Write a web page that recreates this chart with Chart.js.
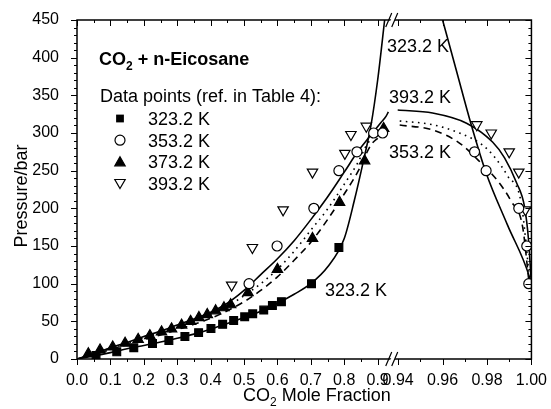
<!DOCTYPE html>
<html>
<head>
<meta charset="utf-8">
<script src="https://cdn.jsdelivr.net/npm/chart.js@4.4.0/dist/chart.umd.min.js"></script>
<style>
  html, body { margin: 0; padding: 0; background: #fff; }
</style>
</head>
<body>
<canvas id="chart" width="551" height="409"></canvas>
<script>
// ---- data (x = CO2 mole fraction, p = pressure / bar) ----

// measured points
const sq323X = [0.057, 0.119, 0.170, 0.226, 0.275, 0.323, 0.364, 0.401, 0.436, 0.469, 0.502, 0.526, 0.559, 0.585, 0.612, 0.702, 0.784];
const sq323P = [4.6, 9.5, 15, 20.5, 24.5, 30, 35, 40.5, 46, 51, 56, 60, 65, 71, 76, 100, 148];

const ci353X = [0.515, 0.599, 0.709, 0.784, 0.838, 0.888, 0.915, 0.9744, 0.9796, 0.9943, 0.9979, 0.9988];
const ci353P = [100, 150, 200, 250, 275, 300, 300, 275, 250, 200, 150, 100];

const tr373X = [0.034, 0.069, 0.107, 0.144, 0.183, 0.218, 0.253, 0.283, 0.313, 0.340, 0.365, 0.390, 0.415, 0.440, 0.460, 0.512, 0.600, 0.705, 0.786, 0.861, 0.918];
const tr373P = [7, 12, 16, 21, 26, 31, 36, 40, 45, 50, 55, 59, 64, 68, 72, 88, 119, 160, 208, 263, 306];

const tr393X = [0.463, 0.525, 0.617, 0.705, 0.802, 0.820, 0.866, 0.9754, 0.9819, 0.990, 0.9943, 0.9973];
const tr393P = [98, 148, 198, 248, 273, 298, 309, 311, 300, 275, 248, 198];

// model curves, left part (x <= 0.935) and right part (x >= 0.94) of the broken axis
const c323LX = [0, 0.05, 0.1, 0.15, 0.2, 0.25, 0.3, 0.35, 0.4, 0.45, 0.5, 0.55, 0.6, 0.65, 0.7, 0.75, 0.8, 0.83, 0.86, 0.88, 0.9, 0.921];
const c323LP = [0, 4, 8.5, 13.5, 18, 22.5, 27.5, 33, 39.5, 47, 55, 63.5, 74, 86, 100, 122, 160, 210, 268, 310, 370, 450];
const c323RX = [0.960, 0.9663, 0.9729, 0.9796, 0.9892, 0.9991, 1.0];
const c323RP = [450, 382, 311, 247, 178, 109, 98];

const c353LX = [0, 0.05, 0.1, 0.15, 0.2, 0.25, 0.3, 0.35, 0.4, 0.45, 0.5, 0.55, 0.6, 0.65, 0.7, 0.75, 0.8, 0.84, 0.88, 0.9, 0.922];
const c353LP = [0, 6, 12.5, 19, 25.5, 32, 39, 46, 54, 64, 76, 91, 109, 131, 155, 185, 219, 248, 284, 293, 300];
const c353RX = [0.9407, 0.9556, 0.9676, 0.976, 0.9849, 0.9909, 0.996, 0.9988];
const c353RP = [310.6, 304, 286.6, 264, 236, 209.4, 176, 105];

const c373LX = [0, 0.05, 0.1, 0.15, 0.2, 0.25, 0.3, 0.35, 0.4, 0.45, 0.5, 0.55, 0.6, 0.65, 0.7, 0.75, 0.8, 0.84, 0.87, 0.9, 0.926];
const c373LP = [0, 7, 14, 21, 28, 35, 42, 50, 59, 70, 84, 100, 119, 143, 171, 199, 232, 260, 286, 300, 306];
const c373RX = [0.9407, 0.9556, 0.9676, 0.978, 0.9834, 0.9894, 0.9954, 0.9992];
const c373RP = [316, 311, 300, 284, 268, 242.5, 207, 105];

const c393LX = [0, 0.05, 0.1, 0.15, 0.2, 0.25, 0.3, 0.35, 0.4, 0.45, 0.5, 0.55, 0.6, 0.65, 0.7, 0.75, 0.8, 0.84, 0.87, 0.89, 0.91, 0.925, 0.932];
const c393LP = [0, 7, 15, 22, 30, 37, 45, 53, 62, 74, 91, 112, 133, 157, 185, 215, 248, 275, 292, 303, 314, 322, 328];
const c393RX = [0.9398, 0.9555, 0.9708, 0.9825, 0.9879, 0.9933, 0.9969, 0.9987, 1.0];
const c393RP = [330.5, 326.5, 313, 288, 267, 234, 202, 158, 98];

// ticks
const xMajor = [0, 0.1, 0.2, 0.3, 0.4, 0.5, 0.6, 0.7, 0.8, 0.9, 0.94, 0.96, 0.98, 1.0];
const xTickLabels = ['0.0', '0.1', '0.2', '0.3', '0.4', '0.5', '0.6', '0.7', '0.8', '0.9', '0.94', '0.96', '0.98', '1.00'];
const xMinor = [0.05, 0.15, 0.25, 0.35, 0.45, 0.55, 0.65, 0.75, 0.85, 0.95, 0.97, 0.99];
const yMajor = [0, 50, 100, 150, 200, 250, 300, 350, 400, 450];
const yMinor = [10, 20, 30, 40, 60, 70, 80, 90, 110, 120, 130, 140, 160, 170, 180, 190, 210, 220, 230, 240,
                260, 270, 280, 290, 310, 320, 330, 340, 360, 370, 380, 390, 410, 420, 430, 440];

const legendLabels = ['323.2 K', '353.2 K', '373.2 K', '393.2 K'];

// ---- broken x axis: 0..0.935 | gap | 0.94..1.00 stretched ----
const BREAK_L = 0.935, BREAK_R = 0.94, BREAK_GAP = 0.0264, RIGHT_STRETCH = 6.65;
function toU(x) {
    return x <= BREAK_L ? x : BREAK_L + BREAK_GAP + (x - BREAK_R) * RIGHT_STRETCH;
}
function pts(xs, ps) {
    return xs.map((x, i) => ({x: toU(x), y: ps[i]}));
}

const FONT = '"Liberation Sans", Arial, Helvetica, sans-serif';
Chart.defaults.font.family = FONT;
Chart.defaults.font.size = 16;
Chart.defaults.color = '#000';

function marker(label, xs, ps, style, fill, radius, rotation) {
    return {
        label: label, data: pts(xs, ps), showLine: false, order: 0,
        pointStyle: style, pointRadius: radius, pointHoverRadius: radius,
        pointRotation: rotation || 0,
        pointBackgroundColor: fill, pointBorderColor: '#000', pointBorderWidth: 1.2
    };
}
function curve(xs, ps, dash) {
    return {
        data: pts(xs, ps), showLine: true, order: 1, pointRadius: 0,
        borderColor: '#000', borderWidth: 1.6, borderDash: dash,
        cubicInterpolationMode: 'monotone'
    };
}

// top/right mirrored axes, minor ticks, break marks, legend and labels
const decorations = {
    id: 'decorations',
    afterDraw(chart) {
        const {ctx, chartArea: a, scales: {x, y}} = chart;
        ctx.save();
        ctx.strokeStyle = '#000';
        ctx.lineWidth = 1.5;
        ctx.beginPath();
        ctx.moveTo(a.left, a.bottom); ctx.lineTo(a.left, a.top); ctx.lineTo(a.right, a.top);
        ctx.lineTo(a.right, a.bottom); ctx.lineTo(a.left, a.bottom);
        ctx.stroke();

        ctx.lineWidth = 1;
        ctx.beginPath();
        const xt = (v, len) => {
            const px = Math.round(x.getPixelForValue(toU(v))) + 0.5;
            ctx.moveTo(px, a.bottom); ctx.lineTo(px, a.bottom + len);
            ctx.moveTo(px, a.top); ctx.lineTo(px, a.top + len);
        };
        const yt = (v, len) => {
            const py = Math.round(y.getPixelForValue(v)) + 0.5;
            ctx.moveTo(a.left, py); ctx.lineTo(a.left - len, py);
            ctx.moveTo(a.right, py); ctx.lineTo(a.right - len, py);
        };
        xMajor.forEach(v => xt(v, 6));
        xMinor.forEach(v => xt(v, 3));
        yMajor.forEach(v => yt(v, 6));
        yMinor.forEach(v => yt(v, 3));
        ctx.stroke();

        // axis break
        const bx = (x.getPixelForValue(toU(BREAK_L)) + x.getPixelForValue(toU(BREAK_R))) / 2;
        [a.bottom, a.top].forEach(by => {
            ctx.fillStyle = '#fff';
            ctx.beginPath();
            ctx.moveTo(bx - 5, by + 4); ctx.lineTo(bx - 1, by - 4);
            ctx.lineTo(bx + 3, by - 4); ctx.lineTo(bx - 1, by + 4);
            ctx.closePath(); ctx.fill();
            ctx.lineWidth = 1.2;
            ctx.beginPath();
            ctx.moveTo(bx - 8, by + 7); ctx.lineTo(bx - 2, by - 7);
            ctx.moveTo(bx - 2, by + 7); ctx.lineTo(bx + 4, by - 7);
            ctx.stroke();
        });

        ctx.fillStyle = '#000';
        ctx.textBaseline = 'alphabetic';
        ctx.textAlign = 'left';

        // formula-style text with a subscript "2" after "CO"
        const co2Text = (rest, px, py, weight, size) => {
            ctx.font = weight + ' ' + size + 'px ' + FONT;
            ctx.fillText('CO', px, py);
            let w = ctx.measureText('CO').width;
            ctx.font = weight + ' ' + Math.round(size * 0.66) + 'px ' + FONT;
            ctx.fillText('2', px + w, py + size * 0.3);
            w += ctx.measureText('2').width;
            ctx.font = weight + ' ' + size + 'px ' + FONT;
            ctx.fillText(rest, px + w, py);
        };
        co2Text(' + n-Eicosane', 99, 65, 'bold', 18);
        co2Text(' Mole Fraction', 243, 401, 'normal', 18);

        ctx.font = '18px ' + FONT;
        ctx.fillText('Data points (ref. in Table 4):', 100, 102);

        // legend rows
        const rowY = [125, 146.7, 168.3, 190];
        legendLabels.forEach((t, i) => {
            ctx.fillStyle = '#000';
            ctx.fillText(t, 148, rowY[i]);
        });
        const mx = 120;
        ctx.lineWidth = 1.2;
        // square
        let cy = rowY[0] - 6.5, s = 5.5 * Math.SQRT1_2;
        ctx.fillStyle = '#000';
        ctx.fillRect(mx - s, cy - s, 2 * s, 2 * s);
        // circle
        cy = rowY[1] - 6.5;
        ctx.beginPath(); ctx.arc(mx, cy, 5, 0, Math.PI * 2);
        ctx.fillStyle = '#fff'; ctx.fill(); ctx.stroke();
        // triangles
        const tri = (cx, cyy, r, flip) => {
            const d = flip ? -1 : 1;
            ctx.beginPath();
            ctx.moveTo(cx, cyy - d * r);
            ctx.lineTo(cx + r * Math.sin(Math.PI * 2 / 3), cyy + d * r * 0.5);
            ctx.lineTo(cx - r * Math.sin(Math.PI * 2 / 3), cyy + d * r * 0.5);
            ctx.closePath();
        };
        cy = rowY[2] - 6.5;
        tri(mx, cy + 1, 6, false); ctx.fillStyle = '#000'; ctx.fill(); ctx.stroke();
        cy = rowY[3] - 6.5;
        tri(mx, cy - 1, 6, true); ctx.fillStyle = '#fff'; ctx.fill(); ctx.stroke();

        // curve labels
        ctx.fillStyle = '#000';
        ctx.font = '18px ' + FONT;
        ctx.fillText('323.2 K', 387, 52);
        ctx.fillText('393.2 K', 389, 103);
        ctx.fillText('353.2 K', 389, 158);
        ctx.fillText('323.2 K', 325, 296);

        // y axis title
        ctx.save();
        ctx.translate(26.5, 196);
        ctx.rotate(-Math.PI / 2);
        ctx.textAlign = 'center';
        ctx.fillText('Pressure/bar', 0, 0);
        ctx.restore();

        ctx.restore();
    }
};

new Chart(document.getElementById('chart').getContext('2d'), {
    type: 'scatter',
    data: {
        datasets: [
            marker('323.2 K', sq323X, sq323P, 'rect', '#000', 5.5),
            marker('353.2 K', ci353X, ci353P, 'circle', '#fff', 5),
            marker('373.2 K', tr373X, tr373P, 'triangle', '#000', 6),
            marker('393.2 K', tr393X, tr393P, 'triangle', '#fff', 6, 180),
            curve(c323LX, c323LP, []),
            curve(c323RX, c323RP, []),
            curve(c353LX, c353LP, [7, 5]),
            curve(c353RX, c353RP, [7, 5]),
            curve(c373LX, c373LP, [1.6, 4.5]),
            curve(c373RX, c373RP, [1.6, 4.5]),
            curve(c393LX, c393LP, []),
            curve(c393RX, c393RP, [])
        ]
    },
    plugins: [decorations],
    options: {
        responsive: false,
        animation: false,
        devicePixelRatio: 1,
        layout: {padding: {top: 20, right: 19, left: 0, bottom: 0}},
        plugins: {legend: {display: false}, tooltip: {enabled: false}},
        scales: {
            x: {
                type: 'linear', min: 0, max: toU(1.0),
                afterBuildTicks(scale) { scale.ticks = xMajor.map(v => ({value: toU(v)})); },
                afterFit(scale) { scale.height = 50; },
                ticks: {autoSkip: false, maxRotation: 0, padding: 4,
                        callback: (v, i) => xTickLabels[i], font: {size: 16}},
                grid: {display: false},
                border: {display: false}
            },
            y: {
                type: 'linear', min: 0, max: 450,
                afterBuildTicks(scale) { scale.ticks = yMajor.map(v => ({value: v})); },
                afterFit(scale) { scale.width = 77; },
                ticks: {padding: 10, font: {size: 16}},
                grid: {display: false},
                border: {display: false}
            }
        }
    }
});
</script>
</body>
</html>
